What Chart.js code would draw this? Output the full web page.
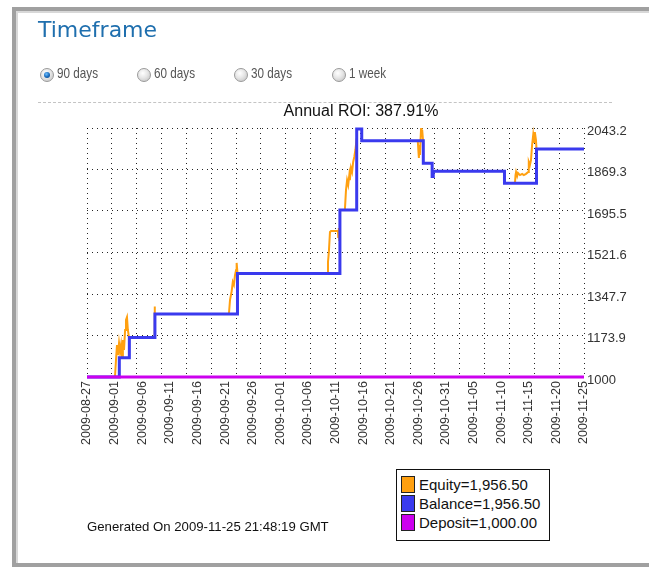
<!DOCTYPE html>
<html>
<head>
<meta charset="utf-8">
<script src="https://cdn.jsdelivr.net/npm/chart.js@4.4.0/dist/chart.umd.min.js"></script>
<style>
html,body{margin:0;padding:0;background:#fff;width:649px;height:568px;overflow:hidden;position:relative;}
#frame{position:absolute;left:12px;top:7px;width:700px;height:552px;border:4px solid #a0a0a0;border-right:none;box-shadow:inset 2px 2px 0 #d8d8d8;background:#fff;}
#head{position:absolute;left:38px;top:17px;font:22px "DejaVu Sans",Verdana,sans-serif;color:#1f6fae;z-index:3;}
.rb{position:absolute;top:68px;width:12px;height:12px;border-radius:50%;border:1px solid #9a9a9a;background:radial-gradient(circle at 40% 35%,#ffffff 0,#e6e6e6 45%,#bdbdbd 100%);z-index:3;}
.rb.on::after{content:"";position:absolute;left:3px;top:3px;width:6px;height:6px;border-radius:50%;background:radial-gradient(circle at 40% 35%,#6fc0ff 0,#1d6fc0 50%,#063a78 100%);}
.rl{position:absolute;top:64px;font:15px "Liberation Sans",Arial,sans-serif;color:#555;z-index:3;transform:scaleX(0.78);transform-origin:0 0;white-space:nowrap;}
#sep{position:absolute;left:38px;top:102px;width:574px;border-top:1px dashed #c4c4c4;z-index:3;}
#chart{position:absolute;left:0;top:0;z-index:2;}
#gen{position:absolute;left:87px;top:519px;font:13.2px "Liberation Sans",Arial,sans-serif;color:#111;z-index:3;white-space:nowrap;}
#legend{position:absolute;left:396px;top:469px;width:152px;height:70px;border:1px solid #111;background:#fff;z-index:3;}
.li{position:absolute;left:4px;height:18px;font:15px "Liberation Sans",Arial,sans-serif;color:#111;white-space:nowrap;line-height:18px;}
.sw{display:inline-block;width:12px;height:15px;border:1px solid #222;vertical-align:-3px;margin-right:4px;}
</style>
</head>
<body>
<div id="frame"></div>
<div id="head">Timeframe</div>
<span class="rb on" style="left:40px"></span><span class="rl" style="left:57px">90 days</span>
<span class="rb" style="left:137px"></span><span class="rl" style="left:154px">60 days</span>
<span class="rb" style="left:234px"></span><span class="rl" style="left:251px">30 days</span>
<span class="rb" style="left:332px"></span><span class="rl" style="left:349px">1 week</span>
<div id="sep"></div>
<canvas id="chart" width="649" height="568"></canvas>
<div id="gen">Generated On 2009-11-25 21:48:19 GMT</div>
<div id="legend"></div>
<script>
// ---- data (x = days since 2009-08-27) ----
const xTickDays   = [0,5,10,15,20,25,30,35,40,45,50,55,60,65,70,75,80,85,90];
const xTickLabels = ['2009-08-27','2009-09-01','2009-09-06','2009-09-11','2009-09-16','2009-09-21','2009-09-26','2009-10-01','2009-10-06','2009-10-11','2009-10-16','2009-10-21','2009-10-26','2009-10-31','2009-11-05','2009-11-10','2009-11-15','2009-11-20','2009-11-25'];
const yTickValues = [1000,1173.9,1347.7,1521.6,1695.5,1869.3,2043.2];
const gridDivisions = 20;

const balanceDays   = [0,5.85,7.67,12.3,27.25,45.8,48.84,49.75,60.9,62.5,62.7,75.6,81.4,90];
const balanceValues = [1000,1081,1166,1264,1434,1700,2039,1990,1895,1840,1862,1812,1955,1955];

const equityDays = [
  5.07,5.25,5.43,5.6,5.8,5.98,6.16,6.34,6.5,6.7,6.9,7.06,7.24,7.4,7.6, null,
  12.2,12.25,12.3, null,
  25.7,25.9,26.2,26.4,26.6,26.8,27.0,27.1,27.25, null,
  43.6,43.64,43.8,44.0,44.2,45.45,45.5,45.6,45.7,45.8, null,
  46.7,46.9,47.1,47.3,47.5,47.6,47.8,48.0,48.2,48.4,48.6,48.84, null,
  59.9,60.0,60.1,60.2,60.3,60.4,60.5,60.6,60.7,60.85, null,
  77.5,77.6,77.7,77.9,78.05,78.4,78.8,79.1,79.5,79.9,80.0,80.2,80.4,80.6,80.8,80.95,81.1,81.3,81.4
];
const equityValues = [
  1000,1071,1134,1092,1142,1105,1134,1080,1155,1113,1197,1239,1251,1197,1166, null,
  1166,1295,1264, null,
  1264,1323,1360,1398,1386,1427,1448,1478,1434, null,
  1434,1482,1524,1608,1612,1612,1587,1624,1574,1600, null,
  1700,1783,1825,1805,1846,1825,1876,1859,1901,1922,1951,2000, null,
  1990,1951,1918,1972,1930,1993,2043,2014,2035,1990, null,
  1812,1846,1859,1842,1855,1846,1851,1846,1851,1859,1901,1888,1909,1972,2014,1985,2026,1993,1954
];

const depositDays   = [0,90];
const depositValues = [1000,1000];

const seriesNames  = ['Equity','Balance','Deposit'];
const legendValues = ['1,956.50','1,956.50','1,000.00'];
const seriesColors = ['#ffa010','#3a3aee','#cc00ee'];
const roiTitle = 'Annual ROI: 387.91%';

// ---- build ----
function pts(xs, ys){
  let prevX = 0;
  return xs.map((x,i)=>{ if(x===null){ return {x:prevX, y:null}; } prevX=x; return {x:x, y:ys[i]}; });
}

const legendEl = document.getElementById('legend');
seriesNames.forEach((n,i)=>{
  const d=document.createElement('div'); d.className='li'; d.style.top=(6+i*19)+'px';
  d.innerHTML='<span class="sw" style="background:'+seriesColors[i]+'"></span>'+n+'='+legendValues[i];
  legendEl.appendChild(d);
});

const dotted = 'rgba(0,0,0,0.85)';
new Chart(document.getElementById('chart'), {
  type:'line',
  data:{
    datasets:[
      {label:'Deposit', data:pts(depositDays,depositValues), borderColor:seriesColors[2], borderWidth:3, pointRadius:0, stepped:true, order:0, clip:6},
      {label:'Balance', data:pts(balanceDays,balanceValues), borderColor:seriesColors[1], borderWidth:3, pointRadius:0, stepped:true, order:1, clip:6},
      {label:'Equity',  data:pts(equityDays,equityValues),  borderColor:seriesColors[0], borderWidth:2, pointRadius:0, spanGaps:false, order:2, clip:6}
    ]
  },
  options:{
    responsive:false, animation:false,
    layout:{padding:{left:87,right:14,top:102.4,bottom:111}},
    plugins:{
      legend:{display:false}, tooltip:{enabled:false},
      title:{display:true, text:roiTitle, color:'#111', font:{family:'"Liberation Sans", Arial, sans-serif', size:16, weight:'normal'}, padding:{top:0,bottom:6.4}}
    },
    scales:{
      x:{type:'linear', min:0, max:90, position:'bottom',
        afterBuildTicks:s=>{ s.ticks = xTickDays.map(v=>({value:v})); },
        ticks:{callback:v=>xTickLabels[xTickDays.indexOf(v)], minRotation:90, maxRotation:90, autoSkip:false, padding:4, color:'#333', font:{family:'"Liberation Sans", Arial, sans-serif', size:12.5}},
        grid:{display:false, drawTicks:false}, border:{display:false},
        afterFit:s=>{ s.height = 80; }
      },
      xg:{type:'linear', min:0, max:gridDivisions, position:'top',
        afterBuildTicks:s=>{ s.ticks = Array.from({length:gridDivisions+1},(_,i)=>({value:i})); },
        ticks:{display:false},
        grid:{drawTicks:false, color:dotted, lineWidth:1},
        border:{display:false, dash:[1,4]},
        afterFit:s=>{ s.height = 0; }
      },
      y:{type:'linear', position:'right', min:yTickValues[0], max:yTickValues[yTickValues.length-1],
        afterBuildTicks:s=>{ s.ticks = yTickValues.map(v=>({value:v})); },
        ticks:{callback:v=>String(v), padding:3, labelOffset:3, color:'#333', font:{family:'"Liberation Sans", Arial, sans-serif', size:13}},
        grid:{drawTicks:false, color:dotted, lineWidth:1},
        border:{display:false, dash:[1,4]},
        afterFit:s=>{ s.width = 51; }
      }
    }
  }
});
</script>
</body>
</html>
